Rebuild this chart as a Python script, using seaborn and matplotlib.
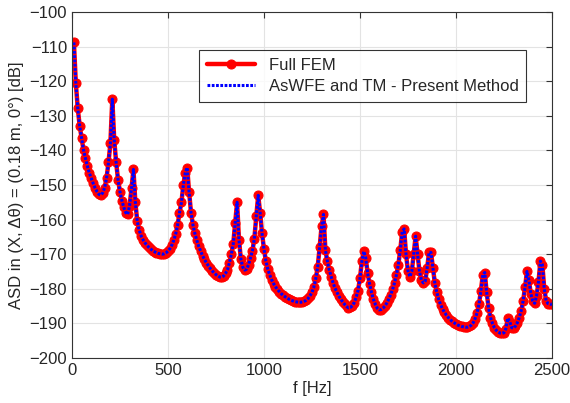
import numpy as np
import pandas as pd
import matplotlib
matplotlib.use("Agg")
import matplotlib.pyplot as plt
import seaborn as sns

# frequency grid (Hz) and ASD values (dB)
freq = np.arange(10, 2510, 10)

asd_fem = [
    -108.8, -120.6, -127.8, -132.9, -136.5, -139.9, -142.3, -144.5, -146.5, -148.0,
    -149.5, -150.8, -151.9, -152.7, -152.9, -152.3, -150.8, -148.0, -143.5, -138.0,
    -125.2, -137.0, -143.5, -148.5, -152.0, -154.5, -156.5, -158.0, -158.5, -156.0,
    -151.0, -145.5, -155.0, -160.5, -163.0, -164.7, -165.8, -166.7, -167.4, -168.0,
    -168.5, -169.0, -169.3, -169.6, -169.8, -169.9, -170.0, -169.9, -169.6, -169.1,
    -168.4, -167.4, -166.0, -164.2, -161.7, -158.0, -155.0, -150.0, -146.5, -145.0,
    -152.0, -158.0, -161.5, -164.0, -166.0, -167.7, -169.1, -170.4, -171.5, -172.5,
    -173.3, -174.1, -174.8, -175.4, -175.9, -176.3, -176.6, -176.6, -176.3, -175.5,
    -174.5, -172.5, -170.0, -167.0, -161.0, -155.0, -166.0, -171.5, -173.8, -174.6,
    -174.3, -173.0, -171.0, -169.0, -165.5, -159.0, -153.0, -158.0, -164.0, -168.5,
    -172.0, -174.3, -176.0, -177.4, -178.5, -179.4, -180.2, -180.8, -181.4, -181.9,
    -182.3, -182.7, -183.0, -183.3, -183.5, -183.7, -183.8, -183.9, -183.9, -183.8,
    -183.6, -183.3, -182.8, -182.0, -181.0, -179.5, -177.0, -173.6, -168.0, -162.0,
    -158.5, -168.8, -172.0, -174.5, -176.5, -178.3, -179.8, -181.0, -182.1, -183.0,
    -183.8, -184.5, -185.1, -185.5, -185.4, -184.9, -184.0, -182.5, -180.5, -177.0,
    -172.0, -169.2, -171.0, -175.5, -178.5, -181.0, -183.0, -184.5, -185.6, -186.1,
    -186.0, -185.6, -185.0, -184.1, -183.0, -181.7, -180.2, -178.3, -176.0, -173.0,
    -168.8, -163.5, -162.7, -170.0, -174.8, -176.5, -175.0, -170.0, -164.8, -170.0,
    -175.0, -177.5, -178.3, -177.8, -174.0, -169.5, -169.5, -174.0, -178.3, -181.0,
    -183.0, -184.6, -185.8, -186.8, -187.6, -188.3, -188.9, -189.4, -189.8, -190.2,
    -190.5, -190.7, -190.9, -191.0, -191.1, -191.1, -190.9, -190.5, -189.8, -188.6,
    -187.0, -184.5, -180.5, -176.0, -175.3, -181.0, -185.5, -188.3, -190.0, -191.2,
    -192.0, -192.5, -192.8, -192.9, -192.7, -191.5, -188.5, -189.5, -191.2, -191.4,
    -190.8, -189.8, -188.3, -186.3, -183.5, -179.5, -175.0, -177.5, -181.5, -183.5,
    -184.2, -182.0, -178.0, -172.0, -173.0, -180.0, -183.5, -184.3, -184.5, -184.4,
]
# the present method overlays the full FEM curve
asd_tm = list(asd_fem)

df = pd.DataFrame({"f": freq, "fem": asd_fem, "tm": asd_tm})

sns.set_style("white")
plt.rcParams["font.family"] = ["Liberation Sans", "DejaVu Sans"]

fig = plt.figure(figsize=(5.7, 4.03), dpi=100)
ax = fig.add_axes([0.1263, 0.1117, 0.842, 0.8586])

sns.lineplot(data=df, x="f", y="fem", ax=ax, color="red", linewidth=3.2,
             marker="o", markersize=6.5, markeredgecolor="red",
             markerfacecolor="red", label="Full FEM")
sns.lineplot(data=df, x="f", y="tm", ax=ax, color="blue", linewidth=2.2,
             dashes=False, label="AsWFE and TM - Present Method")
ax.lines[-1].set_linestyle((0, (0.9, 0.5)))

ax.set_xlim(0, 2500)
ax.set_ylim(-200, -100)
ax.set_xticks([0, 500, 1000, 1500, 2000, 2500])
ax.set_yticks(np.arange(-200, -99, 10))
ax.grid(True, color="#e3e3e3", linewidth=0.8)
ax.tick_params(direction="in", top=True, right=True, labelsize=12, length=4,
               color="#333333")
for s in ax.spines.values():
    s.set_color("#333333")
    s.set_linewidth(0.8)

ax.set_xlabel("f [Hz]", fontsize=12, labelpad=2)
ax.set_ylabel("ASD in (X, \u0394\u03b8) = (0.18 m, 0\u00b0) [dB]", fontsize=12)

handles, labels = ax.get_legend_handles_labels()
handles[1].set_linestyle((0, (0.9, 0.5)))
leg = ax.legend(handles, labels, loc="upper right", bbox_to_anchor=(0.946, 0.89),
                borderaxespad=0, fontsize=12, frameon=True, fancybox=False,
                handlelength=2.9, borderpad=0.45, labelspacing=0.4)
leg.get_frame().set_edgecolor("black")
leg.get_frame().set_linewidth(0.8)

fig.savefig("out.png", dpi=100)
